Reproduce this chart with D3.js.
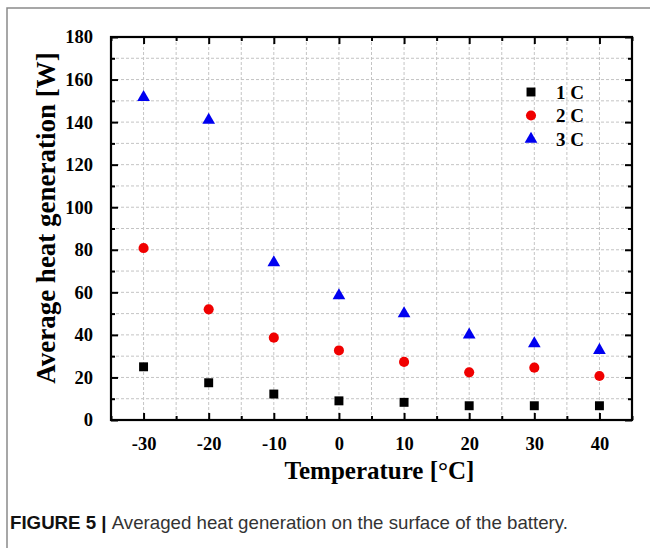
<!DOCTYPE html>
<html>
<head>
<meta charset="utf-8">
<script src="https://cdn.jsdelivr.net/npm/d3@7"></script>
<style>
  html, body { margin: 0; padding: 0; background: #fff; }
  svg { display: block; }
</style>
</head>
<body>
<svg id="chart" width="650" height="548"></svg>
<script>
// Ambient temperature (°C)
const temperatures = [-30, -20, -10, 0, 10, 20, 30, 40];
// Average heat generation (W) per C-rate
const rate1C = [25, 17.5, 12.2, 9, 8.3, 6.7, 6.7, 6.7];
const rate2C = [80.8, 52, 38.7, 32.7, 27.3, 22.4, 24.6, 20.7];
const rate3C = [151.7, 141, 74, 58.5, 50, 40, 35.9, 32.8];
const seriesNames = ["1 C", "2 C", "3 C"];
const xTicks = [-30, -20, -10, 0, 10, 20, 30, 40];
const yTicks = [0, 20, 40, 60, 80, 100, 120, 140, 160, 180];

(function draw() {
  const svg = d3.select("#chart");
  const W = 650, H = 548;
  const plotLeft = 111, plotRight = 632, plotTop = 37, plotBottom = 420;

  const x = d3.scaleLinear().domain([-35, 45]).range([plotLeft, plotRight]);
  const y = d3.scaleLinear().domain([0, 180]).range([plotBottom, plotTop]);

  const serif = "'Liberation Serif', 'Times New Roman', serif";
  const sans = "'Liberation Sans', Arial, sans-serif";
  const plain = d => String(d); // hyphen-minus for negatives

  // outer panel frame (top and left edges)
  svg.append("path")
    .attr("d", `M7,${H} L7,8 L${W},8`)
    .attr("fill", "none").attr("stroke", "#8a8a8a").attr("stroke-width", 1.5);

  // grid
  const xGrid = d3.range(-30, 41, 5);
  const yGrid = d3.range(10, 171, 10);
  const grid = svg.append("g").attr("stroke", "#c4c4c4").attr("stroke-width", 1)
    .attr("stroke-dasharray", "3,2");
  grid.selectAll("line.gx").data(xGrid).join("line").attr("class", "gx")
    .attr("x1", d => x(d)).attr("x2", d => x(d)).attr("y1", plotTop).attr("y2", plotBottom);
  grid.selectAll("line.gy").data(yGrid).join("line").attr("class", "gy")
    .attr("y1", d => y(d)).attr("y2", d => y(d)).attr("x1", plotLeft).attr("x2", plotRight);

  // axes with inward ticks
  const majorLen = 7, minorLen = 4;
  const xMinor = d3.range(-35, 46, 5).filter(v => !xTicks.includes(v));
  const yMinor = d3.range(10, 180, 20);

  function styleAxis(g) {
    g.select(".domain").remove();
    g.selectAll(".tick line").attr("stroke", "#000").attr("stroke-width", 2);
    g.selectAll(".tick text").attr("font-family", serif).attr("font-weight", "bold")
      .attr("font-size", 18.5).attr("fill", "#000");
  }

  svg.append("g").attr("transform", `translate(0,${plotBottom})`)
    .call(d3.axisBottom(x).tickValues(xTicks).tickSizeInner(-majorLen).tickSizeOuter(0).tickPadding(majorLen + 10).tickFormat(plain))
    .call(styleAxis);
  svg.append("g").attr("transform", `translate(0,${plotBottom})`)
    .call(d3.axisBottom(x).tickValues(xMinor).tickSizeInner(-minorLen).tickSizeOuter(0).tickFormat(""))
    .call(styleAxis);
  svg.append("g").attr("transform", `translate(0,${plotTop})`)
    .call(d3.axisTop(x).tickValues(xTicks).tickSizeInner(-majorLen).tickSizeOuter(0).tickFormat(""))
    .call(styleAxis);
  svg.append("g").attr("transform", `translate(0,${plotTop})`)
    .call(d3.axisTop(x).tickValues(xMinor).tickSizeInner(-minorLen).tickSizeOuter(0).tickFormat(""))
    .call(styleAxis);

  svg.append("g").attr("transform", `translate(${plotLeft},0)`)
    .call(d3.axisLeft(y).tickValues(yTicks).tickSizeInner(-majorLen).tickSizeOuter(0).tickPadding(majorLen + 11).tickFormat(plain))
    .call(styleAxis);
  svg.append("g").attr("transform", `translate(${plotLeft},0)`)
    .call(d3.axisLeft(y).tickValues(yMinor).tickSizeInner(-minorLen).tickSizeOuter(0).tickFormat(""))
    .call(styleAxis);
  svg.append("g").attr("transform", `translate(${plotRight},0)`)
    .call(d3.axisRight(y).tickValues(yTicks).tickSizeInner(-majorLen).tickSizeOuter(0).tickFormat(""))
    .call(styleAxis);
  svg.append("g").attr("transform", `translate(${plotRight},0)`)
    .call(d3.axisRight(y).tickValues(yMinor).tickSizeInner(-minorLen).tickSizeOuter(0).tickFormat(""))
    .call(styleAxis);

  // plot frame
  svg.append("rect").attr("x", plotLeft).attr("y", plotTop)
    .attr("width", plotRight - plotLeft).attr("height", plotBottom - plotTop)
    .attr("fill", "none").attr("stroke", "#000").attr("stroke-width", 2.2);

  // markers
  const series = [
    { name: seriesNames[0], values: rate1C, color: "#000000", shape: d3.symbolSquare, size: 80 },
    { name: seriesNames[1], values: rate2C, color: "#f00000", shape: d3.symbolCircle, size: 80 },
    { name: seriesNames[2], values: rate3C, color: "#0000f0", shape: d3.symbolTriangle, size: 70 }
  ];

  series.forEach(s => {
    svg.append("g").selectAll("path")
      .data(temperatures.map((t, i) => [t, s.values[i]]))
      .join("path")
      .attr("transform", d => `translate(${x(d[0])},${y(d[1])})`)
      .attr("d", d3.symbol().type(s.shape).size(s.size))
      .attr("fill", s.color);
  });

  // legend
  const legend = svg.append("g");
  series.forEach((s, i) => {
    const ly = 92 + i * 23.5;
    legend.append("path").attr("transform", `translate(531,${ly})`)
      .attr("d", d3.symbol().type(s.shape).size(s.size)).attr("fill", s.color);
    legend.append("text").attr("x", 556).attr("y", ly).attr("dy", "0.35em")
      .attr("font-family", serif).attr("font-weight", "bold").attr("font-size", 19)
      .text(s.name);
  });

  // axis titles
  svg.append("text")
    .attr("x", (plotLeft + plotRight) / 2 + 8).attr("y", 479)
    .attr("text-anchor", "middle")
    .attr("font-family", serif).attr("font-weight", "bold").attr("font-size", 25)
    .text("Temperature [°C]");

  svg.append("text")
    .attr("transform", `translate(55,218) rotate(-90)`)
    .attr("text-anchor", "middle")
    .attr("font-family", serif).attr("font-weight", "bold").attr("font-size", 27)
    .text("Average heat generation [W]");

  // caption
  const cap = svg.append("text").attr("x", 10).attr("y", 529)
    .attr("font-family", sans).attr("font-size", 18.5).attr("fill", "#333")
    .attr("textLength", 558).attr("lengthAdjust", "spacingAndGlyphs");
  cap.append("tspan").attr("font-weight", "bold").attr("fill", "#111").text("FIGURE 5 | ");
  cap.append("tspan").text("Averaged heat generation on the surface of the battery.");
})();
</script>
</body>
</html>
